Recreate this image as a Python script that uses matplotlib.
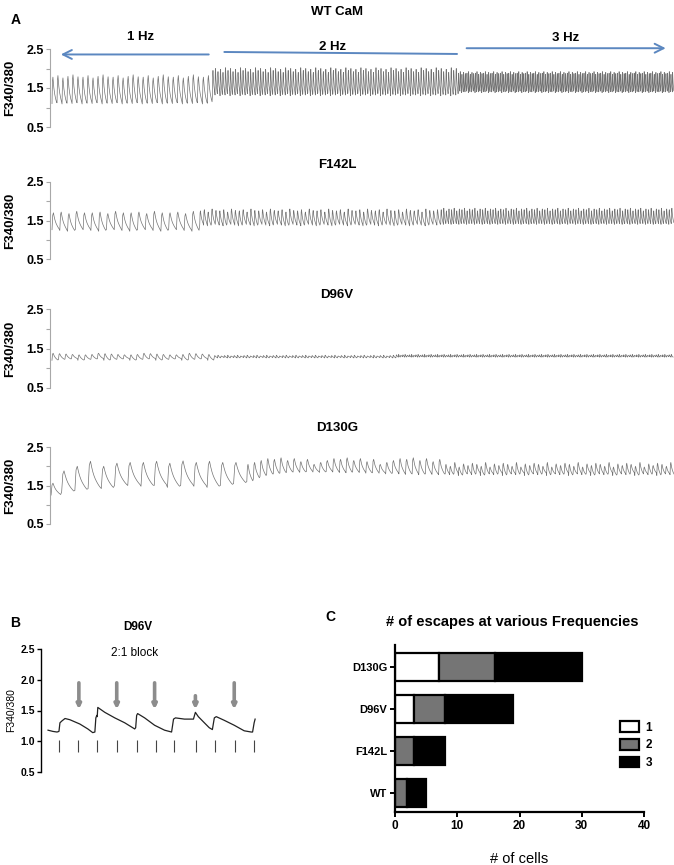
import numpy as np
import matplotlib
matplotlib.use("Agg")
import matplotlib.pyplot as plt
from matplotlib.patches import Patch
from matplotlib.ticker import FixedLocator

plt.rcParams['font.family'] = ['Liberation Sans', 'DejaVu Sans']

W, H = 674, 865

# normalised shape of one transient (rise then decay)
beat_shape = [0.0, 0.85, 1.0, 0.78, 0.6, 0.46, 0.35, 0.26, 0.18, 0.11, 0.05, 0.0]

# panel A: per-segment pacing rate, number of beats, peak and trough levels
wt_rates = [1, 2, 3]
wt_beats = [32, 98, 129]
wt_peaks = [[1.78, 1.82, 1.76, 1.8, 1.84, 1.79], [1.95, 2.0, 1.92, 1.98, 1.9, 2.02],
            [1.88, 1.92, 1.85, 1.9, 1.87]]
wt_troughs = [[1.1, 1.12, 1.09, 1.11], [1.35, 1.32, 1.38, 1.3], [1.4, 1.42, 1.38, 1.41]]

f142_rates = [1, 2, 3]
f142_beats = [19, 62, 90]
f142_peaks = [[1.7, 1.72, 1.68, 1.74, 1.7], [1.75, 1.78, 1.72, 1.8, 1.76], [1.78, 1.82, 1.75, 1.8]]
f142_troughs = [[1.26, 1.24, 1.22, 1.27], [1.4, 1.38, 1.36, 1.41], [1.42, 1.4, 1.43]]

d96_rates = [1, 2, 3]
d96_beats = [25, 56, 128]
d96_peaks = [[1.38, 1.37, 1.36, 1.35, 1.34, 1.34, 1.35], [1.32, 1.33, 1.31], [1.34, 1.35, 1.33]]
d96_troughs = [[1.2, 1.22, 1.23, 1.24], [1.27, 1.26, 1.28], [1.29, 1.28, 1.3]]

d130_rates = [1.25, 1, 2, 3]
d130_beats = [1, 14, 30, 52]
d130_peaks = [[1.56], [1.88, 2.0, 2.13, 2.0, 2.08, 2.1, 2.1, 2.13, 2.08, 2.14, 2.1, 2.13, 2.1, 2.1],
              [2.05, 2.1, 2.15, 2.2, 2.18, 2.22, 2.15, 2.2, 2.12, 2.18],
              [2.05, 2.0, 2.1, 1.98, 2.06, 2.02, 2.08]]
d130_troughs = [[1.25], [1.33, 1.37, 1.42, 1.42, 1.5, 1.5, 1.48, 1.5, 1.45, 1.5, 1.48, 1.45, 1.5, 1.55],
                [1.6, 1.68, 1.74, 1.78, 1.8, 1.82, 1.84, 1.85, 1.84, 1.86, 1.85, 1.84, 1.86, 1.85,
                 1.84, 1.83, 1.85, 1.84, 1.82, 1.83, 1.82, 1.8, 1.82, 1.8, 1.79, 1.8, 1.78, 1.8,
                 1.79, 1.78],
                [1.8, 1.78, 1.82, 1.76, 1.8]]

panel_names = ['WT CaM', 'F142L', 'D96V', 'D130G']
panel_xlim = [(-0.4, 124.0), (-0.26, 80.0), (-0.3, 95.8), (-0.08, 47.1)]

# panel B: D96V trace (s, ratio), stimulus times and escape arrows
b_time = [-0.56, -0.31, -0.1, 0.0, 0.05, 0.15, 0.31, 0.56, 1.07, 1.48, 1.73, 1.84, 1.89, 1.94,
          1.96, 1.99, 2.35, 2.86, 3.37, 3.88, 3.93, 3.98, 4.03, 4.39, 4.9, 5.41, 5.77, 5.87,
          5.97, 6.43, 6.89, 6.99, 7.14, 7.45, 7.7, 7.86, 7.96, 8.06, 8.47, 8.98, 9.49, 9.85,
          9.92, 10.0, 10.05]
b_ratio = [1.18, 1.16, 1.15, 1.16, 1.3, 1.33, 1.37, 1.35, 1.28, 1.2, 1.14, 1.15, 1.38, 1.42,
           1.4, 1.55, 1.47, 1.38, 1.3, 1.2, 1.22, 1.42, 1.45, 1.38, 1.26, 1.18, 1.15, 1.36,
           1.38, 1.36, 1.36, 1.47, 1.4, 1.3, 1.22, 1.19, 1.38, 1.4, 1.34, 1.26, 1.17, 1.15,
           1.15, 1.3, 1.36]
b_stim = [0, 1, 1.95, 2.95, 4, 4.95, 5.9, 7, 8, 9, 10]
b_arrow_t = [1.02, 2.96, 4.9, 6.99, 8.98]
b_arrow_top = [1.95, 1.95, 1.95, 1.74, 1.95]

# panel C: number of cells escaping at each frequency
c_groups = ['WT', 'F142L', 'D96V', 'D130G']
c_freq = ['1', '2', '3']
c_counts = {'1': [0, 0, 3, 7], '2': [2, 3, 5, 9], '3': [3, 5, 11, 14]}
c_colors = {'1': 'white', '2': '#757575', '3': 'black'}


def build_trace(rates, beats, peaks, troughs):
    ts, vs = [], []
    t = 0.0
    n = len(beat_shape) - 1
    for rate, count, pk, tr in zip(rates, beats, peaks, troughs):
        period = 1.0 / rate
        for i in range(count):
            p = pk[i % len(pk)]
            b = tr[i % len(tr)]
            for k in range(n):
                ts.append(t + period * k / n)
                vs.append(b + (p - b) * beat_shape[k])
            t += period
    ts.append(t)
    vs.append(vs[-1])
    return np.array(ts), np.array(vs)


def fig_xy(x, y):
    return x / W, 1 - y / H


fig = plt.figure(figsize=(W / 100, H / 100), dpi=100)

# ---- panel A
a_tops = [49, 182, 309, 447]
a_bottoms = [127, 259, 388, 524]
a_title_y = [12, 165, 295, 428]
traces = [(wt_rates, wt_beats, wt_peaks, wt_troughs),
          (f142_rates, f142_beats, f142_peaks, f142_troughs),
          (d96_rates, d96_beats, d96_peaks, d96_troughs),
          (d130_rates, d130_beats, d130_peaks, d130_troughs)]

axes_a = []
for i in range(4):
    l, b = fig_xy(50, a_bottoms[i])
    ax = fig.add_axes([l, b, (W - 50) / W, (a_bottoms[i] - a_tops[i]) / H])
    t, v = build_trace(*traces[i])
    ax.plot(t, v, color='#727272', lw=0.5)
    ax.set_xlim(*panel_xlim[i])
    ax.set_ylim(0.5, 2.5)
    for s in ['top', 'right', 'bottom']:
        ax.spines[s].set_visible(False)
    ax.spines['left'].set_color('#a8a8a8')
    ax.spines['left'].set_linewidth(0.8)
    ax.set_xticks([])
    ax.set_yticks([0.5, 1.5, 2.5])
    ax.set_yticklabels(['0.5', '1.5', '2.5'], fontsize=9, fontweight='bold')
    ax.yaxis.set_minor_locator(FixedLocator([1.0, 2.0]))
    ax.tick_params(axis='y', which='both', colors='#a8a8a8', labelcolor='black',
                   length=3, width=0.8, pad=1.5)
    ax.set_ylabel('F340/380', fontsize=9.5, fontweight='bold')
    ax.yaxis.set_label_coords(-0.054, 0.5)
    fig.text(*fig_xy(337, a_title_y[i]), panel_names[i], ha='center', va='center',
             fontsize=9.5, fontweight='bold')
    axes_a.append(ax)

fig.text(*fig_xy(16, 20), 'A', ha='center', va='center', fontsize=10, fontweight='bold')

# frequency arrows on the WT trace
ax = axes_a[0]
blue = '#5b87c0'
tr = ('data', 'axes fraction')
ax.annotate('', xy=(1.2, 0.93), xytext=(31.8, 0.93), xycoords=tr, textcoords=tr,
            arrowprops=dict(arrowstyle='->', color=blue, lw=1.4, mutation_scale=16))
ax.annotate('', xy=(81.3, 0.936), xytext=(33.8, 0.962), xycoords=tr, textcoords=tr,
            arrowprops=dict(arrowstyle='-', color=blue, lw=1.4))
ax.annotate('', xy=(122.9, 1.01), xytext=(82.1, 1.01), xycoords=tr, textcoords=tr,
            arrowprops=dict(arrowstyle='->', color=blue, lw=1.4, mutation_scale=16))
for xt, yt, lab in [(17.7, 1.15, '1 Hz'), (55.9, 1.03, '2 Hz'), (102.4, 1.14, '3 Hz')]:
    ax.text(xt, yt, lab, transform=ax.get_xaxis_transform(), ha='center', va='center',
            fontsize=9.5, fontweight='bold')

# ---- panel B
l, b = fig_xy(41, 772)
axb = fig.add_axes([l, b, 219 / W, 123 / H])
axb.plot(b_time, b_ratio, color='#222222', lw=0.9)
axb.vlines(b_stim, 0.82, 1.02, color='#444444', lw=0.8)
for ta, top in zip(b_arrow_t, b_arrow_top):
    axb.annotate('', xy=(ta, 1.52), xytext=(ta, top),
                 arrowprops=dict(arrowstyle='-|>', color='#8c8c8c', lw=2.6,
                                 mutation_scale=6, shrinkA=0, shrinkB=0))
axb.set_xlim(-0.92, 10.3)
axb.set_ylim(0.5, 2.5)
for s in ['top', 'right', 'bottom']:
    axb.spines[s].set_visible(False)
axb.spines['left'].set_linewidth(1.0)
axb.set_xticks([])
axb.set_yticks([0.5, 1.0, 1.5, 2.0, 2.5])
axb.set_yticklabels(['0.5', '1.0', '1.5', '2.0', '2.5'], fontsize=7.5, fontweight='bold')
axb.tick_params(axis='y', length=3, width=1.0, pad=1.5)
axb.set_ylabel('F340/380', fontsize=7.5)
axb.yaxis.set_label_coords(-0.115, 0.5)
fig.text(*fig_xy(15, 623), 'B', ha='center', va='center', fontsize=10, fontweight='bold')
fig.text(*fig_xy(138, 627), 'D96V', ha='center', va='center', fontsize=8.5, fontweight='bold')
fig.text(*fig_xy(135, 653), '2:1 block', ha='center', va='center', fontsize=8.5)

# ---- panel C
l, b = fig_xy(395, 812)
axc = fig.add_axes([l, b, 249 / W, 167 / H])
ypos = np.arange(len(c_groups))
left = np.zeros(len(c_groups))
handles = []
for f in c_freq:
    vals = np.array(c_counts[f])
    axc.barh(ypos, vals, left=left, height=0.67, color=c_colors[f], edgecolor='black', lw=1.6)
    left = left + vals
    handles.append(Patch(facecolor=c_colors[f], edgecolor='black', lw=1.6, label=f))
axc.set_xlim(0, 40)
axc.set_ylim(-0.45, 3.52)
axc.set_xticks([0, 10, 20, 30, 40])
axc.set_xticklabels(['0', '10', '20', '30', '40'], fontsize=8.5, fontweight='bold')
axc.set_yticks(ypos)
axc.set_yticklabels(c_groups, fontsize=8, fontweight='bold')
for s in ['top', 'right']:
    axc.spines[s].set_visible(False)
for s in ['left', 'bottom']:
    axc.spines[s].set_linewidth(1.6)
axc.tick_params(length=3.5, width=1.4, pad=2)
axc.set_xlabel('# of cells', fontsize=10.5, labelpad=15)
axc.legend(handles=handles, loc='center left', bbox_to_anchor=(0.86, 0.4), frameon=False,
           prop={'size': 8.5, 'weight': 'bold'}, handlelength=1.6, handleheight=1.0,
           labelspacing=0.45, handletextpad=0.6)
fig.text(*fig_xy(330, 617), 'C', ha='center', va='center', fontsize=10, fontweight='bold')
fig.text(*fig_xy(512, 622), '# of escapes at various Frequencies', ha='center', va='center',
         fontsize=10.5, fontweight='bold')

fig.savefig('out.png', dpi=100)
